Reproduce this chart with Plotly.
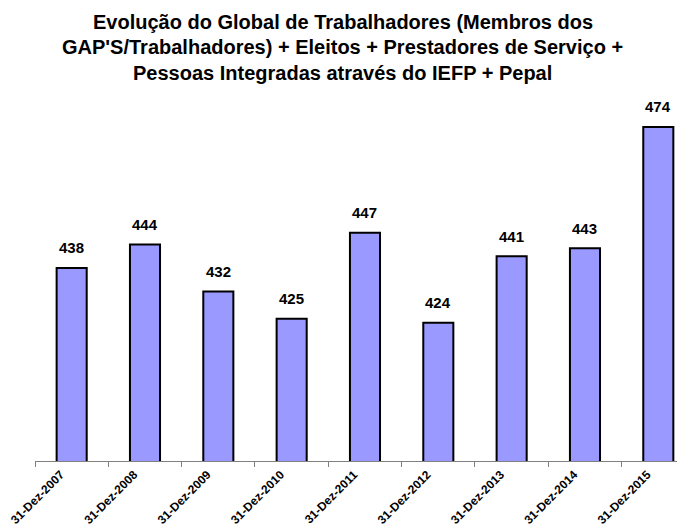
import plotly.graph_objects as go

categories = ["31-Dez-2007", "31-Dez-2008", "31-Dez-2009", "31-Dez-2010", "31-Dez-2011",
              "31-Dez-2012", "31-Dez-2013", "31-Dez-2014", "31-Dez-2015"]
values = [438, 444, 432, 425, 447, 424, 441, 443, 474]
title_lines = [
    "Evolução do Global de Trabalhadores (Membros dos",
    "GAP'S/Trabalhadores) + Eleitos + Prestadores de Serviço +",
    "Pessoas Integradas através do IEFP + Pepal",
]

OFF = 8  # default page body margin
W, H = 685 - OFF, 528 - OFF
ml, mr, mt, mb = 35 - OFF, 0, 100 - OFF, 67
plot_h = H - mt - mb
plot_w = W - ml - mr
base_px = H - mb  # figure-coord of baseline

FONT = "Liberation Sans, Arial, sans-serif"

fig = go.Figure()
fig.add_trace(go.Bar(
    x=categories, y=values, width=0.41,
    marker=dict(color="#9999FF", line=dict(color="#000000", width=2)),
    hoverinfo="x+y",
))

annotations = []
for c, v in zip(categories, values):
    annotations.append(dict(
        x=c, y=v, xref="x", yref="y", text=f"<b>{v}</b>", showarrow=False,
        yanchor="middle", yshift=20, font=dict(family=FONT, size=15, color="#000000"),
    ))

title_px = [22.5, 47.5, 73]
for line, py in zip(title_lines, title_px):
    annotations.append(dict(
        x=(342.5 - OFF - ml) / plot_w, y=(base_px - (py - OFF)) / plot_h,
        xref="paper", yref="paper",
        text=f"<b>{line}</b>", showarrow=False, xanchor="center", yanchor="middle",
        font=dict(family=FONT, size=20, color="#000000"),
    ))

ymin = 388.7
px_per_unit = 3.917
ymax = ymin + plot_h / px_per_unit
cat_px = 73.33
xmax = -0.5 + plot_w / cat_px

fig.update_layout(
    width=W, height=H,
    margin=dict(l=ml, r=mr, t=mt, b=mb, autoexpand=False),
    paper_bgcolor="white", plot_bgcolor="white",
    showlegend=False,
    annotations=annotations,
    font=dict(family=FONT, color="#000000"),
)
fig.update_xaxes(
    type="category", range=[-0.5, xmax],
    showline=True, linecolor="#808080", linewidth=1,
    ticks="outside", tickson="boundaries", ticklen=5, tickcolor="#808080", tickwidth=1,
    tickangle=-45, tickfont=dict(family=FONT, size=12, color="#000000"),
    ticklabelshift=-11, ticklabelstandoff=1,
    showgrid=False, zeroline=False,
    tickvals=categories, ticktext=[f"<b>{c}</b>" for c in categories],
)
fig.update_yaxes(
    range=[ymin, ymax], visible=False, showgrid=False, zeroline=False,
)

fig.write_html("out.html")
